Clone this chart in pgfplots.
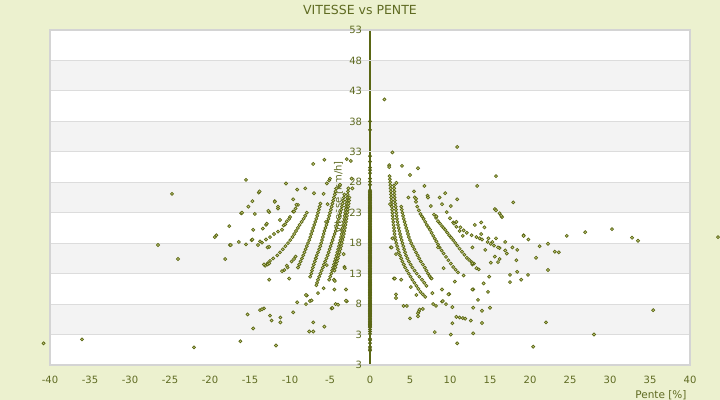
\documentclass[border=0pt]{standalone}
\usepackage{fontspec}
\setmainfont{DejaVu Sans}
\usepackage{pgfplots}
\pgfplotsset{compat=1.18}
\definecolor{bgc}{HTML}{ECF1CF}
\definecolor{band}{HTML}{F3F3F3}
\definecolor{gridc}{HTML}{DCDCDC}
\definecolor{boxc}{HTML}{D4D4D4}
\definecolor{txt}{HTML}{5F6B22}
\definecolor{axisc}{HTML}{5A6614}
\definecolor{ptd}{HTML}{5A6614}
\definecolor{ptf}{HTML}{C8CF80}
\pgfplotsset{pts/.style={only marks, mark=square*, mark size=1.1bp, mark options={rotate=45, draw=ptd, fill=ptf, line width=0.7bp}, forget plot}}
\begin{document}
\begin{tikzpicture}
\path[use as bounding box, fill=bgc] (0,0) rectangle (720bp,400bp);
\node[text=txt, font=\fontsize{12.5bp}{15bp}\selectfont] at (360bp,390bp) {VITESSE vs PENTE};
\node[anchor=base east, text=txt, font=\fontsize{10.5bp}{12bp}\selectfont] at (690bp,1.5bp) {Pente [\%]};
\begin{axis}[
  axis on top,
  at={(50bp,35bp)}, anchor=south west, scale only axis, width=640bp, height=335bp,
  xmin=-40, xmax=40, ymin=-2, ymax=53,
  xtick={-40,-35,...,40},
  xticklabels={-40,-35,-30,-25,-20,-15,-10,-5,0,5,10,15,20,25,30,35,40},
  ytick={-2,3,...,53}, yticklabels={3,3,8,13,18,23,28,33,38,43,48,53},
  ymajorgrids, grid style={draw=gridc, line width=0.9bp},
  axis line style={draw=boxc, line width=1.2bp},
  tick style={draw=none}, major tick length=0pt,
  ticklabel style={text=txt, font=\fontsize{10bp}{12bp}\selectfont},
  yticklabel style={anchor=east, xshift=315.5bp},
  xticklabel style={anchor=base, yshift=-18.3bp},
  axis background/.style={fill=white},
  clip=false,
]
% bands
\addplot[fill=band, draw=none, forget plot] coordinates {(-40,43) (40,43) (40,48) (-40,48)};
\addplot[fill=band, draw=none, forget plot] coordinates {(-40,33) (40,33) (40,38) (-40,38)};
\addplot[fill=band, draw=none, forget plot] coordinates {(-40,23) (40,23) (40,28) (-40,28)};
\addplot[fill=band, draw=none, forget plot] coordinates {(-40,13) (40,13) (40,18) (-40,18)};
\addplot[fill=band, draw=none, forget plot] coordinates {(-40,3) (40,3) (40,8) (-40,8)};
% y axis line at x = 0
\addplot[draw=axisc, line width=1.4bp, mark=none, forget plot] coordinates {(0,-2) (0,53)};
\node[rotate=90, text=txt, font=\fontsize{10bp}{12bp}\selectfont] at ([xshift=-31.5bp]axis cs:0,25.5) {Vitesse [km/h]};
% x = 0 column
\addplot[pts, mark options={rotate=45, draw=ptd, fill=ptd, line width=0.7bp}] coordinates {
(0,0.35)(0,0.6)(0,0.95)(0,1.6)(0,2.1)(0,2.3)(0,3.1)(0,3.5)(0,3.85)
(0,4.2)(0,4.35)(0,4.5)(0,4.65)(0,4.8)(0,4.95)(0,5.1)(0,5.25)(0,5.4)(0,5.55)(0,5.7)(0,5.85)(0,6.0)(0,6.15)(0,6.3)(0,6.45)(0,6.6)(0,6.75)
(0,6.9)(0,7.05)(0,7.2)(0,7.35)(0,7.5)(0,7.65)(0,7.8)(0,7.95)(0,8.1)(0,8.25)(0,8.4)(0,8.55)(0,8.7)(0,8.85)(0,9.0)(0,9.15)(0,9.3)(0,9.45)
(0,9.6)(0,9.75)(0,9.9)(0,10.05)(0,10.2)(0,10.35)(0,10.5)(0,10.65)(0,10.8)(0,10.95)(0,11.1)(0,11.25)(0,11.4)(0,11.55)(0,11.7)(0,11.85)
(0,12.0)(0,12.15)(0,12.3)(0,12.45)(0,12.6)(0,12.75)(0,12.9)(0,13.05)(0,13.2)(0,13.35)(0,13.5)(0,13.65)(0,13.8)(0,13.95)(0,14.1)(0,14.25)
(0,14.4)(0,14.55)(0,14.7)(0,14.85)(0,15.0)(0,15.15)(0,15.3)(0,15.45)(0,15.6)(0,15.75)(0,15.9)(0,16.05)(0,16.2)(0,16.35)(0,16.5)(0,16.65)
(0,16.8)(0,16.95)(0,17.1)(0,17.25)(0,17.4)(0,17.55)(0,17.7)(0,17.85)(0,18.0)(0,18.15)(0,18.3)(0,18.45)(0,18.6)(0,18.75)(0,18.9)(0,19.05)
(0,19.2)(0,19.35)(0,19.5)(0,19.65)(0,19.8)(0,19.95)(0,20.1)(0,20.25)(0,20.4)(0,20.55)(0,20.7)(0,20.85)(0,21.0)(0,21.15)(0,21.3)(0,21.45)
(0,21.6)(0,21.75)(0,21.9)(0,22.05)(0,22.2)(0,22.35)(0,22.5)(0,22.65)(0,22.8)(0,22.95)(0,23.1)(0,23.25)(0,23.4)(0,23.55)(0,23.7)(0,23.85)
(0,24.0)(0,24.15)(0,24.3)(0,24.45)(0,24.6)(0,24.75)(0,24.9)(0,25.05)(0,25.2)(0,25.35)(0,25.5)(0,25.65)(0,25.8)(0,25.95)(0,26.1)(0,26.25)
(0,26.4)(0,26.55)(0,26.7)(0,27.6)(0,28.1)(0,28.6)(0,29.5)(0,30.0)(0,30.4)(0,31.4)(0,32.3)(0,36.6)(0,38.0)
};
% right arcs
\addplot[pts] coordinates {
(2.45,29.0)(2.48,28.5)(2.52,28.0)(2.55,27.5)(2.58,27.0)(2.6,26.5)(2.63,26.0)(2.65,25.5)(2.68,25.0)(2.7,24.5)(2.73,24.0)(2.77,23.5)(2.8,23.0)
(2.83,22.5)(2.87,22.0)(2.91,21.5)(2.95,21.0)(2.99,20.5)(3.03,20.0)(3.07,19.5)(3.12,19.0)(3.2,18.5)(3.28,18.0)(3.38,17.5)(3.48,17.0)(3.6,16.5)
(3.75,16.0)(3.9,15.5)(4.05,15.0)(4.22,14.5)(4.4,14.0)(4.62,13.5)(4.85,13.0)(5.07,12.5)(5.3,12.0)(5.55,11.5)(5.8,11.0)(6.05,10.5)(6.3,10.0)(6.6,9.6)(6.9,9.2)
(3.0,27.5)(3.02,27.0)(3.04,26.5)(3.05,26.0)(3.08,25.5)(3.1,25.0)(3.15,24.5)(3.2,24.0)(3.24,23.5)(3.28,23.0)(3.32,22.5)(3.37,22.0)(3.43,21.5)
(3.5,21.0)(3.59,20.5)(3.68,20.0)(3.76,19.5)(3.85,19.0)(3.95,18.5)(4.05,18.0)(4.16,17.5)(4.27,17.0)(4.38,16.5)(4.5,16.0)(4.67,15.5)(4.85,15.0)
(5.07,14.5)(5.3,14.0)(5.57,13.5)(5.85,13.0)(6.17,12.5)(6.5,12.0)(6.78,11.5)(7.05,11.0)
(3.9,24.0)(3.97,23.5)(4.05,23.0)(4.13,22.5)(4.22,22.0)(4.32,21.5)(4.42,21.0)(4.53,20.5)(4.65,20.0)(4.75,19.5)(4.85,19.0)(5.0,18.5)(5.15,18.0)
(5.35,17.5)(5.55,17.0)(5.75,16.5)(5.95,16.0)(6.15,15.5)(6.35,15.0)(6.6,14.5)(6.85,14.0)(7.05,13.5)(7.25,13.0)(7.45,12.6)(7.6,12.3)
(5.6,25.5)(5.75,24.8)(5.9,24.0)(6.1,23.4)(6.3,22.8)(6.5,22.4)(6.7,22.0)(6.9,21.5)(7.1,21.0)(7.3,20.6)(7.5,20.2)(7.7,19.7)(7.9,19.2)
(8.1,18.75)(8.3,18.3)(8.5,17.8)(8.7,17.3)(8.95,16.8)(9.2,16.3)(9.5,15.75)(9.8,15.2)(10.1,14.65)(10.4,14.1)(10.7,13.65)(11.0,13.2)
(8.0,22.7)(8.25,22.15)(8.5,21.6)(8.75,21.2)(9.0,20.8)(9.2,20.5)(9.4,20.2)(9.65,19.75)(9.9,19.3)(10.15,18.9)(10.4,18.5)(10.65,18.05)
(10.9,17.6)(11.2,17.1)(11.5,16.6)(11.8,16.1)(12.1,15.6)(12.4,15.25)(12.7,14.9)(13.0,14.65)
(10.8,21.5)(11.3,20.6)(11.7,20.1)(12.1,19.7)(12.7,19.3)(13.3,19.0)(13.7,18.8)(14.0,18.6)(14.7,18.2)(15.1,17.9)(15.5,17.6)(16.2,17.2)(16.9,16.8)
(10.0,22.1)(10.4,21.4)(10.8,20.7)(11.2,20.0)(11.6,19.2)
};
% left arcs
\addplot[pts] coordinates {
(-2.7,27.0)(-2.75,26.5)(-2.8,26.0)(-2.85,25.5)(-2.9,25.0)(-2.95,24.5)(-3.0,24.0)(-3.05,23.5)(-3.1,23.0)(-3.16,22.5)(-3.22,22.0)(-3.28,21.5)
(-3.35,21.0)(-3.41,20.5)(-3.48,20.0)(-3.55,19.5)(-3.63,19.0)(-3.71,18.5)(-3.8,18.0)(-3.89,17.5)(-3.98,17.0)(-4.08,16.5)(-4.18,16.0)(-4.29,15.5)
(-4.4,15.0)(-4.51,14.5)(-4.62,14.0)(-4.73,13.5)(-4.85,13.0)(-4.97,12.5)(-5.1,12.0)
(-2.57,25.5)(-2.62,25.0)(-2.67,24.5)(-2.72,24.0)(-2.77,23.5)(-2.82,23.0)(-2.88,22.5)(-2.94,22.0)(-3.0,21.5)(-3.07,21.0)(-3.13,20.5)(-3.2,20.0)
(-3.27,19.5)(-3.35,19.0)(-3.43,18.5)(-3.52,18.0)(-3.61,17.5)(-3.7,17.0)(-3.8,16.5)(-3.9,16.0)(-4.01,15.5)(-4.12,15.0)(-4.23,14.5)(-4.34,14.0)(-4.45,13.5)
(-3.2,26.0)(-3.27,25.5)(-3.35,25.0)(-3.42,24.5)(-3.5,24.0)(-3.6,23.5)(-3.7,23.0)(-3.8,22.5)(-3.9,22.0)(-4.0,21.5)(-4.1,21.0)(-4.2,20.5)(-4.3,20.0)
(-4.42,19.5)(-4.55,19.0)(-4.67,18.5)(-4.8,18.0)(-4.92,17.5)(-5.05,17.0)(-5.17,16.5)(-5.3,16.0)(-5.45,15.5)(-5.6,15.0)(-5.75,14.5)(-5.9,14.0)
(-6.05,13.5)(-6.2,13.0)(-6.35,12.5)(-6.5,12.0)(-6.62,11.5)(-6.7,11.1)
(-4.2,27.0)(-4.3,26.5)(-4.4,26.0)(-4.5,25.5)(-4.6,25.0)(-4.7,24.5)(-4.8,24.0)(-4.9,23.5)(-5.0,23.0)(-5.1,22.5)(-5.2,22.0)(-5.32,21.5)(-5.45,21.0)
(-5.57,20.5)(-5.7,20.0)(-5.8,19.5)(-5.9,19.0)(-6.0,18.5)(-6.1,18.0)(-6.22,17.5)(-6.35,17.0)(-6.5,16.5)(-6.65,16.0)(-6.78,15.5)(-6.9,15.0)
(-7.03,14.5)(-7.15,14.0)(-7.25,13.5)(-7.35,13.0)(-7.48,12.5)
(-6.2,24.5)(-6.3,24.0)(-6.4,23.5)(-6.5,23.0)(-6.6,22.5)(-6.72,22.0)(-6.85,21.5)(-6.97,21.0)(-7.1,20.5)(-7.22,20.0)(-7.35,19.5)(-7.47,19.0)
(-7.6,18.5)(-7.75,18.0)(-7.9,17.5)(-8.05,17.0)(-8.2,16.5)(-8.35,16.0)(-8.5,15.5)(-8.68,15.0)(-8.85,14.5)(-9.0,14.0)
(-7.9,23.0)(-8.1,22.5)(-8.3,22.0)(-8.55,21.5)(-8.8,21.0)(-9.02,20.5)(-9.25,20.0)(-9.47,19.5)(-9.7,19.0)(-9.97,18.5)(-10.25,18.0)(-10.57,17.5)
(-10.9,17.0)(-11.25,16.5)(-11.6,16.0)(-12.1,15.5)(-12.5,15.1)(-12.8,14.7)(-13.1,14.3)
(-9.0,24.3)(-9.3,23.7)(-9.6,23.2)(-10.0,22.3)(-10.4,21.6)(-10.8,20.9)
(-14.0,17.7)(-13.5,18.1)(-13.0,18.6)(-12.5,19.0)(-12.0,19.5)(-11.5,19.9)(-11.0,20.2)
};
% scattered points, left
\addplot[pts] coordinates {
(-40.8,1.56)(-36.0,2.2)(-22.0,0.9)(-16.2,1.9)(-15.3,6.3)(-14.6,4.0)(-13.75,7.0)(-13.25,7.3)(-13.5,7.15)(-12.5,6.1)(-12.3,5.3)(-11.75,1.2)
(-11.2,5.8)(-11.2,5.0)(-9.6,6.65)(-9.1,8.3)(-8.0,8.0)(-7.5,8.5)(-7.6,3.5)(-7.1,3.5)(-7.1,5.0)(-5.7,4.3)(-4.8,7.3)(-4.7,7.35)(-4.3,8.0)
(-4.0,7.9)(-2.9,8.45)(-7.3,8.6)(-7.9,9.4)(-8.0,9.5)(-6.5,9.8)(-5.8,10.6)(-5.4,14.4)(-6.75,15.5)(-3.0,10.4)(-3.0,8.55)(-3.2,14.1)(-3.15,13.9)
(-4.5,12.0)(-4.45,10.4)(-4.4,11.8)(-3.3,16.2)
(-9.5,15.4)(-9.3,15.8)(-9.8,15.0)(-10.3,14.0)(-10.4,14.3)(-11.0,13.4)(-10.7,13.6)(-10.1,12.2)(-12.6,12.0)(-12.8,14.5)(-12.6,14.7)(-13.25,14.5)
(-12.8,17.3)(-12.6,17.4)(-13.75,18.3)(-14.8,18.5)(-14.7,18.6)(-15.5,17.8)(-16.4,18.2)(-17.5,17.7)(-18.1,15.4)(-17.6,20.8)(-14.6,20.2)
(-13.4,20.4)(-13.0,21.0)(-12.9,21.2)(-11.25,21.8)(-10.1,22.0)(-10.6,21.1)(-9.5,23.2)(-12.6,23.1)(-12.7,23.3)(-11.5,23.7)(-11.5,24.0)(-16.1,22.9)
(-15.2,24.0)(-14.7,24.9)(-11.9,24.9)(-11.9,24.8)(-9.6,25.2)(-9.2,24.3)(-13.9,26.3)(-13.8,26.5)(-15.5,28.4)(-10.5,27.8)(-9.1,26.8)(-8.1,27.0)
(-7.0,26.2)(-7.1,31.0)(-5.7,31.7)(-2.9,31.8)(-2.4,31.5)(-5.1,28.3)(-5.0,28.6)(-5.4,27.8)(-5.8,26.1)(-5.3,24.4)(-5.5,21.5)(-3.8,27.4)
(-3.75,27.6)(-2.2,27.0)(-2.3,28.6)(-24.75,26.1)(-24.0,15.4)(-26.5,17.7)(-19.4,19.0)(-19.2,19.3)(-14.4,22.8)(-16.0,23.0)(-17.4,17.7)
};
% scattered points, right
\addplot[pts] coordinates {
(1.8,41.6)(2.8,32.9)(2.4,30.8)(2.4,30.5)(4.0,30.7)(6.0,30.3)(5.0,29.2)(3.3,27.9)(6.8,27.4)(5.5,26.5)(4.8,25.5)(5.75,25.3)(7.2,25.8)
(7.25,25.5)(8.7,25.5)(9.4,26.2)(10.9,25.2)(7.6,24.1)(9.0,24.4)(10.1,24.1)(9.6,23.1)(10.5,21.2)(2.5,24.4)(2.8,18.8)(2.6,17.3)(2.7,17.3)
(3.25,16.2)(3.0,12.2)(3.1,12.2)(3.9,12.0)(3.25,9.6)(3.25,9.0)(4.2,7.7)(4.6,7.7)(5.0,5.65)(5.1,10.8)(5.8,9.5)(6.0,6.5)(6.1,6.8)(6.2,7.1)
(6.0,6.0)(6.6,7.2)(8.1,3.4)(8.25,7.7)(7.9,8.0)(9.0,8.4)(9.1,8.5)(9.5,8.0)(10.3,7.5)(9.0,10.4)(9.9,9.65)(9.8,9.6)(7.8,9.8)(7.7,12.2)
(10.6,11.7)(10.3,4.85)(10.1,3.0)(10.9,1.56)(10.8,5.9)(11.2,5.8)(11.6,5.7)(11.9,5.6)(12.6,5.3)(12.9,7.4)(12.9,3.2)(14.0,6.9)(14.0,4.9)
(12.9,10.4)(12.8,10.4)(14.2,11.4)(14.9,12.5)(11.7,12.7)(9.2,13.9)(8.5,17.3)(20.4,1.0)(22.0,5.0)(28.0,3.0)(35.4,7.0)(43.5,19.0)
(10.9,33.8)(15.75,29.0)(13.4,27.4)(17.9,24.7)(15.6,23.6)(16.2,22.9)(16.5,22.3)(19.2,19.3)(19.8,18.6)(21.2,17.5)(22.25,17.9)(23.1,16.6)
(23.6,16.5)(22.25,13.6)(26.9,19.8)(30.25,20.3)(24.6,19.2)(33.5,18.4)(32.75,18.9)(20.75,15.6)(19.75,12.8)(18.4,13.3)(17.5,11.6)(16.0,14.9)
(14.4,16.9)(14.75,10.0)(13.5,8.7)(15.0,7.4)(13.1,21.0)(13.9,21.4)(14.3,20.6)(13.9,19.5)(14.8,18.8)(15.3,18.2)(15.75,18.8)(16.0,17.3)
(16.9,18.2)(17.8,17.3)(18.4,16.9)(19.2,19.2)(17.1,16.3)(18.3,15.2)(16.2,15.4)(15.6,15.8)(15.1,14.8)(17.5,12.8)(18.9,12.0)(12.8,17.3)
(12.8,14.5)(12.8,14.7)(13.3,13.9)(13.6,13.7)(15.75,23.4)(16.4,22.5)(8.3,22.4)
};
\end{axis}
\end{tikzpicture}
\end{document}
